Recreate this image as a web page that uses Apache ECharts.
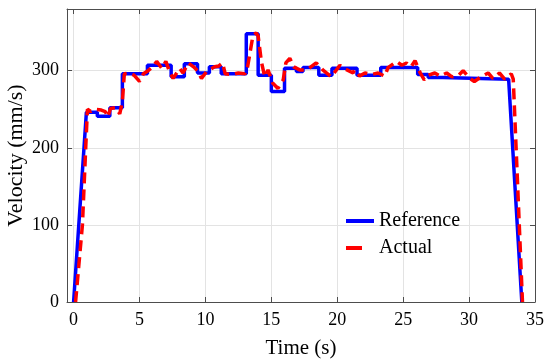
<!DOCTYPE html>
<html>
<head>
<meta charset="utf-8">
<script src="https://cdn.jsdelivr.net/npm/echarts@6/dist/echarts.min.js"></script>
<style>
html,body{margin:0;padding:0;background:#fff;}
#chart{width:550px;height:364px;}
</style>
</head>
<body>
<div id="chart"></div>
<script>
// Reference (blue step profile)
var refTime = [0, 0.97, 1.8, 1.8, 2.75, 2.75, 3.7, 3.7, 5.6, 5.6, 7.4, 7.4, 8.4, 8.4, 9.4, 9.4, 10.3, 10.3, 11.2, 11.2,
  13.1, 13.1, 14.0, 14.0, 15.0, 15.0, 16.0, 16.0, 16.9, 16.9, 17.4, 17.4, 18.6, 18.6, 19.6, 19.6, 21.5, 21.5,
  23.3, 23.3, 26.1, 26.1, 26.9, 26.9, 28.0, 28.0, 33.0, 34.0];
var refVel = [0, 246, 246, 241, 241, 252, 252, 296, 296, 307, 307, 292, 292, 309, 309, 297, 297, 305, 305, 296,
  296, 348, 348, 294, 294, 273, 273, 303, 303, 299, 299, 304, 304, 294, 294, 303, 303, 294,
  294, 304, 304, 295, 295, 291, 291, 289, 289, 0];

// Actual (red dashed measured)
var actTime = [0.15, 0.67, 0.92, 1.05, 1.3, 1.6, 2.1, 2.4, 2.6, 2.8, 3.2, 3.5, 3.7, 3.85, 4.2, 4.6, 5.0, 5.3, 5.65, 6.0,
  6.3, 6.7, 7.0, 7.25, 7.55, 8.05, 8.3, 8.7, 9.1, 9.4, 9.7, 10.1, 10.7, 11.0, 11.3, 11.5, 12.0, 12.5, 13.0, 13.2,
  13.6, 13.85, 14.0, 14.25, 14.5, 14.75, 15.1, 15.5, 15.9, 16.1, 16.4, 16.7, 17.15, 17.7, 18.4, 18.7, 18.9, 19.55,
  20.2, 20.5, 21.2, 21.3, 21.7, 22.1, 22.6, 23.1, 23.6, 23.85, 24.5, 24.9, 25.25, 25.6, 25.9, 26.3, 26.6, 26.9,
  27.4, 27.8, 28.3, 28.7, 29.2, 29.55, 30.05, 30.4, 30.9, 31.45, 31.8, 32.3, 32.7, 33.2, 33.35, 34.05];
var actVel = [0, 100, 200, 250, 247, 250, 249, 247, 240, 251, 252, 244, 260, 296, 297, 294, 286, 296, 300, 305,
  312, 303, 312, 300, 290, 303, 297, 310, 305, 300, 290, 299, 305, 306, 310, 296, 295, 297, 296, 305,
  345, 349, 345, 311, 292, 301, 284, 277, 288, 310, 316, 305, 301, 301, 310, 305, 301, 292,
  307, 303, 297, 301, 293, 297, 295, 297, 293, 304, 312, 307, 310, 305, 313, 297, 288, 294,
  297, 293, 297, 292, 294, 300, 290, 286, 292, 297, 290, 297, 289, 296, 289, 0];

var seriesNames = ['Reference', 'Actual'];
var xTicks = [0, 5, 10, 15, 20, 25, 30, 35];
var yTicks = [0, 100, 200, 300];

function zip(a, b) { return a.map(function (v, i) { return [v, b[i]]; }); }

var FONT = 'Liberation Serif';
var axisColor = '#4d4d4d';
var gridColor = '#e3e3e3';

function xAxisBase(pos) {
  return {
    type: 'value', min: -0.5, max: 35,
    position: pos,
    axisLine: {show: true, onZero: false, lineStyle: {color: axisColor, width: 1}},
    axisTick: {show: true, inside: true, length: 5, customValues: xTicks, lineStyle: {color: axisColor}},
    splitLine: {show: false}
  };
}

var xBottom = xAxisBase('bottom');
xBottom.name = 'Time (s)';
xBottom.nameLocation = 'middle';
xBottom.nameGap = 36;
xBottom.nameMoveOverlap = false;
xBottom.nameTextStyle = {fontFamily: FONT, fontSize: 21, color: '#000'};
xBottom.axisLabel = {fontFamily: FONT, fontSize: 18, color: '#000', margin: 9, customValues: xTicks};
xBottom.splitLine = {show: true, lineStyle: {color: gridColor, width: 1}};

var xTop = xAxisBase('top');
xTop.axisLabel = {show: false};

var chart = echarts.init(document.getElementById('chart'), null, {renderer: 'canvas'});
chart.setOption({
  animation: false,
  backgroundColor: '#fff',
  grid: {left: 67, right: 15, top: 9, bottom: 62, containLabel: false, outerBoundsMode: 'none'},
  legend: {
    orient: 'vertical',
    left: 344,
    top: 211,
    padding: 0,
    itemWidth: 28,
    itemHeight: 4,
    itemGap: 7,
    itemStyle: {opacity: 0},
    textStyle: {fontFamily: FONT, fontSize: 20, color: '#000', lineHeight: 20},
    data: [
      {name: seriesNames[0], lineStyle: {width: 4}},
      {name: seriesNames[1], lineStyle: {width: 4, type: [16, 30]}}
    ]
  },
  xAxis: [xBottom, xTop],
  yAxis: [{
    type: 'value', min: 0, max: 380, interval: 100,
    position: 'left',
    name: 'Velocity (mm/s)', nameLocation: 'middle', nameGap: 40,
    nameMoveOverlap: false,
    nameTextStyle: {fontFamily: FONT, fontSize: 22, color: '#000'},
    axisLine: {show: true, onZero: false, lineStyle: {color: axisColor, width: 1}},
    axisTick: {show: true, inside: true, length: 5, lineStyle: {color: axisColor}},
    axisLabel: {
      fontFamily: FONT, fontSize: 18, color: '#000', margin: 8,
      formatter: function (v) { return yTicks.indexOf(v) >= 0 ? String(v) : ''; }
    },
    splitLine: {show: true, lineStyle: {color: gridColor, width: 1}}
  }, {
    type: 'value', min: 0, max: 380, interval: 100,
    position: 'right',
    axisLine: {show: true, onZero: false, lineStyle: {color: axisColor, width: 1}},
    axisTick: {show: true, inside: true, length: 5, lineStyle: {color: axisColor}},
    axisLabel: {show: false},
    splitLine: {show: false}
  }],
  series: [{
    name: seriesNames[0],
    type: 'line',
    data: zip(refTime, refVel),
    symbol: 'none',
    lineStyle: {color: '#0000ff', width: 3.5},
    itemStyle: {color: '#0000ff'},
    z: 2
  }, {
    name: seriesNames[1],
    type: 'line',
    data: zip(actTime, actVel),
    symbol: 'none',
    lineStyle: {color: '#ff0000', width: 3.5, type: [11, 6]},
    itemStyle: {color: '#ff0000'},
    z: 3
  }]
});
</script>
</body>
</html>
